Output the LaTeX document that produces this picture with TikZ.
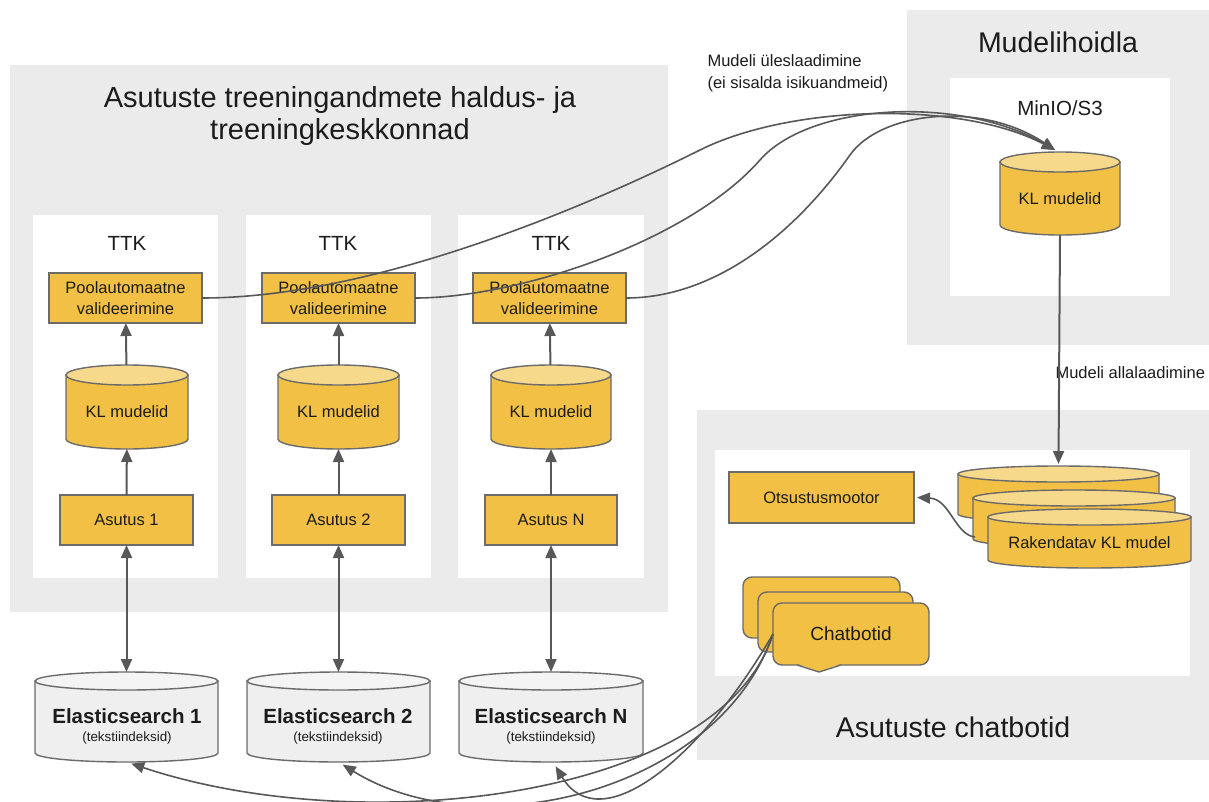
\documentclass[tikz,border=0pt]{standalone}
\usepackage{fontspec}
\setmainfont{Liberation Sans}
\usetikzlibrary{arrows.meta}

\definecolor{panel}{HTML}{EBEBEB}
\definecolor{gold}{HTML}{F1C045}
\definecolor{goldtop}{HTML}{F7D98B}
\definecolor{edge}{HTML}{6B6B6B}
\definecolor{wire}{HTML}{585858}
\definecolor{esbody}{HTML}{EFEFEF}
\definecolor{estop}{HTML}{F4F4F4}
\definecolor{ink}{HTML}{1C1C1C}

\tikzset{
  panelbox/.style={fill=panel, draw=none, inner sep=0, outer sep=0},
  whitebox/.style={fill=white, draw=none, inner sep=0, outer sep=0},
  goldbox/.style={fill=gold, draw=edge, line width=1.4pt, inner sep=0, outer sep=0,
    align=center, font=\fontsize{16.5}{21}\selectfont},
  bubble/.style={fill=gold, draw=edge, line width=1.4pt, rounded corners=9pt,
    inner sep=0, outer sep=0},
  bigtitle/.style={font=\fontsize{29}{32}\selectfont, align=center},
  paneltitle/.style={font=\fontsize{28.5}{32}\selectfont},
  boxtitle/.style={font=\fontsize{20.5}{24}\selectfont},
  note/.style={font=\fontsize{16.5}{22}\selectfont, align=left},
  link/.style={draw=wire, line width=2pt, -{Triangle[length=13pt,width=11pt]}},
  twoway/.style={draw=wire, line width=2pt,
    {Triangle[length=13pt,width=11pt]}-{Triangle[length=13pt,width=11pt]}},
  flow/.style={draw=wire, line width=1.6pt, -{Triangle[length=13pt,width=11pt]}},
}

% rectangle node given by its corners: name, style, x1, y1, x2, y2, text
\newcommand\rectnode[7]{%
  \node[#2, minimum width={(#5)-(#3)}, minimum height={(#6)-(#4)}]
    (#1) at ({((#3)+(#5))/2},{((#4)+(#6))/2}) {#7};}

% database cylinder: name, x1, top y, x2, bottom y, end radius, body, top, text
\newcommand\dbcyl[9]{%
  \pgfmathsetmacro\cylcx{((#2)+(#4))/2}%
  \pgfmathsetmacro\cylrx{((#4)-(#2))/2}%
  \filldraw[fill=#7, draw=edge, line width=1.4pt]
    (#2,#3+#6) -- (#2,#5-#6)
    arc[start angle=180, end angle=0, x radius=\cylrx, y radius=#6]
    -- (#4,#3+#6) -- cycle;
  \filldraw[fill=#8, draw=edge, line width=1.4pt]
    (\cylcx,#3+#6) ellipse[x radius=\cylrx, y radius=#6];
  \node[minimum width={(#4)-(#2)}, minimum height={(#5)-(#3)}, inner sep=0, outer sep=0]
    (#1) at (\cylcx,{((#3)+(#5))/2}) {};
  \node[font=\fontsize{16.5}{20}\selectfont] (#1-t) at (\cylcx,{((#3)+(#5))/2+(#6)/2}) {#9};}

\begin{document}
\begin{tikzpicture}[x=1pt, y=-1pt, text=ink]
\useasboundingbox (0,0) rectangle (1209,802);
\clip (0,0) rectangle (1209,802);
\fill[white] (0,0) rectangle (1209,802);

% ---- panels ----
\rectnode{train}{panelbox}{10}{65}{668}{612}{}
\rectnode{ttk1}{whitebox}{33}{215}{218}{578}{}
\rectnode{ttk2}{whitebox}{246}{215}{431}{578}{}
\rectnode{ttk3}{whitebox}{458}{215}{644}{578}{}
\rectnode{store}{panelbox}{907}{10}{1215}{345}{}
\rectnode{minio}{whitebox}{950}{78}{1170}{296}{}
\rectnode{bots}{panelbox}{697}{410}{1215}{760}{}
\rectnode{botsin}{whitebox}{715}{450}{1190}{676}{}

% ---- titles ----
\node[bigtitle] (traintitle) at (340,116) {Asutuste treeningandmete haldus- ja\\treeningkeskkonnad};
\node[paneltitle] (storetitle) at (1058,42) {Mudelihoidla};
\node[boxtitle] (miniotitle) at (1060,108) {MinIO/S3};
\node[paneltitle] (botstitle) at (953,727) {Asutuste chatbotid};
\node[boxtitle] (ttk1title) at (127,243) {TTK};
\node[boxtitle] (ttk2title) at (338,243) {TTK};
\node[boxtitle] (ttk3title) at (551,243) {TTK};

% ---- training columns ----
\rectnode{val1}{goldbox}{49}{273}{202}{323}{Poolautomaatne\\valideerimine}
\rectnode{val2}{goldbox}{262}{273}{415}{323}{Poolautomaatne\\valideerimine}
\rectnode{val3}{goldbox}{473}{273}{626}{323}{Poolautomaatne\\valideerimine}
\dbcyl{kl1}{66}{365}{188}{449}{10}{gold}{goldtop}{KL mudelid}
\dbcyl{kl2}{278}{365}{399}{449}{10}{gold}{goldtop}{KL mudelid}
\dbcyl{kl3}{491}{365}{611}{449}{10}{gold}{goldtop}{KL mudelid}
\rectnode{org1}{goldbox}{60}{495}{193}{545}{Asutus 1}
\rectnode{org2}{goldbox}{272}{495}{405}{545}{Asutus 2}
\rectnode{org3}{goldbox}{485}{495}{617}{545}{Asutus N}

% ---- search indexes ----
\dbcyl{es1}{35}{672}{218}{762}{9}{esbody}{estop}{}
\dbcyl{es2}{247}{672}{430}{762}{9}{esbody}{estop}{}
\dbcyl{es3}{459}{672}{643}{762}{9}{esbody}{estop}{}
\node[font=\fontsize{20.5}{24}\selectfont\bfseries] (es1name) at (127,716) {Elasticsearch 1};
\node[font=\fontsize{20.5}{24}\selectfont\bfseries] (es2name) at (338,716) {Elasticsearch 2};
\node[font=\fontsize{20.5}{24}\selectfont\bfseries] (es3name) at (551,716) {Elasticsearch N};
\node[font=\fontsize{13.4}{16}\selectfont] (es1sub) at (127,738) {(tekstiindeksid)};
\node[font=\fontsize{13.4}{16}\selectfont] (es2sub) at (338,738) {(tekstiindeksid)};
\node[font=\fontsize{13.4}{16}\selectfont] (es3sub) at (551,738) {(tekstiindeksid)};

% ---- model store ----
\dbcyl{store-kl}{1000}{152}{1120}{235}{10}{gold}{goldtop}{KL mudelid}

% ---- chatbot side ----
\rectnode{engine}{goldbox}{729}{472}{914}{523}{Otsustusmootor}
\dbcyl{run3}{958}{466}{1159}{522}{8}{gold}{goldtop}{}
\dbcyl{run2}{973}{490}{1175}{547}{8}{gold}{goldtop}{}
\dbcyl{run1}{988}{509}{1191}{568}{8}{gold}{goldtop}{Rakendatav KL mudel}

\rectnode{bot3}{bubble}{743}{577}{900}{638}{}
\rectnode{bot2}{bubble}{758}{592}{913}{652}{}
\rectnode{bot1}{bubble}{773}{603}{929}{665}{}
\fill[gold] (796,663.2) -- (819,672) -- (842,663.2) -- cycle;
\draw[edge, line width=1.4pt, line join=round] (797,665) -- (819,672) -- (841,665);
\node[font=\fontsize{19}{22}\selectfont] (bot1t) at (851,634) {Chatbotid};

% ---- labels ----
\node[note, anchor=west] (uplabel) at (704,73) {Mudeli üleslaadimine\\(ei sisalda isikuandmeid)};
\node[note, anchor=west] (downlabel) at (1052,373) {Mudeli allalaadimine};

% ---- vertical connectors ----
\foreach \i in {1,2,3} {
  \draw[link] (org\i) -- (kl\i);
  \draw[link] (kl\i) -- (val\i);
  \draw[twoway] (org\i) -- (es\i);
}
\draw[link] (store-kl.south) -- ([yshift=2pt]run3.north);
\coordinate (runout) at (975,537);
\draw[flow] (runout) .. controls (955,535) and (950,499) .. ([xshift=3pt]engine.east);

% ---- model upload ----
\coordinate (upin) at (1055,150);
\draw[flow] (val1.east) .. controls (380,298) and (600,200) .. (700,150)
  .. controls (790,105) and (960,100) .. (upin);
\draw[flow] (val2.east) .. controls (520,298) and (690,240) .. (760,160)
  .. controls (810,103) and (960,95) .. (upin);
\draw[flow] (val3.east) .. controls (710,298) and (790,240) .. (850,155)
  .. controls (880,112) and (980,100) .. (upin);

% ---- chatbot lookups ----
\draw[flow, shorten >=5pt] (bot1.west) .. controls (720,800) and (360,840) .. (es1.south);
\draw[flow, shorten >=5pt] (bot1.west) .. controls (720,790) and (480,850) .. (es2.south);
\draw[flow, shorten >=5pt] (bot1.west) .. controls (700,760) and (600,840) .. ([xshift=2pt]es3.south);
\end{tikzpicture}
\end{document}
